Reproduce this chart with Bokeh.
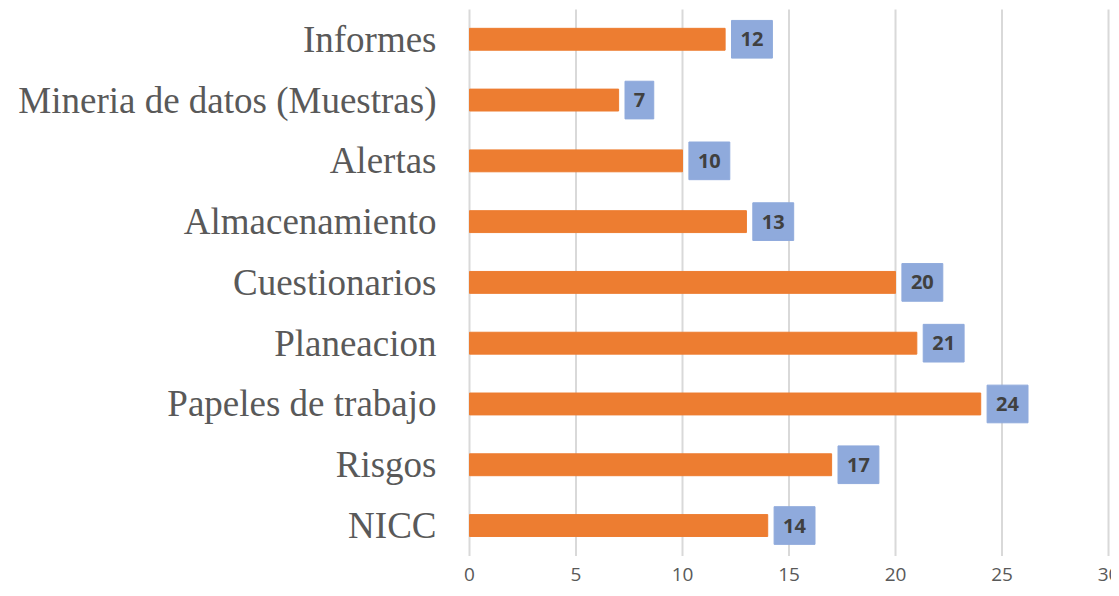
from bokeh.plotting import figure
from bokeh.models import Range1d, FixedTicker, ColumnDataSource
from bokeh.core.properties import value
from bokeh.embed import file_html
from bokeh.resources import INLINE

categories = ["Informes", "Mineria de datos (Muestras)", "Alertas", "Almacenamiento",
              "Cuestionarios", "Planeacion", "Papeles de trabajo", "Risgos", "NICC"]
values = [12, 7, 10, 13, 20, 21, 24, 17, 14]
x_ticks = [0, 5, 10, 15, 20, 25, 30]

n = len(categories)
ypos = [n - 1 - i for i in range(n)]
labels = [str(v) for v in values]
box_left = [v + 0.3 for v in values]
box_right = [l + 0.78 + 0.57 * len(s) for l, s in zip(box_left, labels)]
box_mid = [(l + r) / 2 for l, r in zip(box_left, box_right)]

src = ColumnDataSource(dict(y=ypos, val=values, bl=box_left, br=box_right,
                            bm=box_mid, lab=labels))

y_bottom = -0.5
y_top = n - 0.5
p = figure(width=1111, height=588, output_backend="svg", toolbar_location=None,
           x_range=Range1d(-0.47, 30.14), y_range=Range1d(y_bottom - 0.536, y_top - 0.01),
           min_border_left=459, min_border_right=0, min_border_top=9, min_border_bottom=0)
p.outline_line_color = None
p.background_fill_color = "white"
p.border_fill_color = "white"
p.xgrid.grid_line_color = None
p.ygrid.grid_line_color = None
p.xaxis.visible = False

# vertical gridlines
p.segment(x0=x_ticks, x1=x_ticks, y0=[y_bottom] * len(x_ticks), y1=[y_top] * len(x_ticks),
          line_color="#D9D9D9", line_width=2)

p.hbar(y="y", left=0, right="val", height=0.36, color="#ED7D31", source=src)
p.hbar(y="y", left="bl", right="br", height=0.62, color="#8FAADC", source=src)
p.text(x="bm", y="y", text="lab", source=src, text_align="center", text_baseline="middle",
       text_font=value("Open Sans"), text_font_style="bold", text_font_size="20px",
       text_color="#404040")

# x tick labels
p.text(x=x_ticks, y=[y_bottom - 0.31] * len(x_ticks), text=[str(t) for t in x_ticks],
       text_align="center", text_baseline="middle",
       text_font=value("Open Sans"), text_font_size="19px", text_color="#595959")

p.yaxis.ticker = FixedTicker(ticks=ypos)
p.yaxis.major_label_overrides = {y: c for y, c in zip(ypos, categories)}
p.yaxis.axis_line_color = None
p.yaxis.major_tick_line_color = None
p.yaxis.minor_tick_line_color = None
p.yaxis.major_tick_out = 0
p.yaxis.major_tick_in = 0
p.yaxis.major_label_text_font = "Liberation Serif"
p.yaxis.major_label_text_font_size = "37px"
p.yaxis.major_label_text_color = "#595959"
p.yaxis.major_label_standoff = 23

open("out.html", "w").write(file_html(p, INLINE))
